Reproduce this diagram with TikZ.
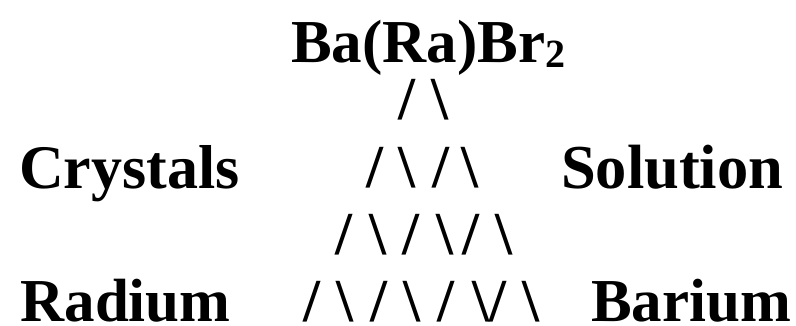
\documentclass[tikz,border=0pt]{standalone}
\usepackage{fontspec}
\setmainfont{Liberation Serif}
\begin{document}
\begin{tikzpicture}[x=1bp,y=-1bp,
  lbl/.style={inner sep=0pt,outer sep=0pt,anchor=base west,text depth=0pt,font=\fontsize{61bp}{70bp}\selectfont\bfseries},
  sl/.style={inner sep=0pt,outer sep=0pt,anchor=base,text depth=0pt,font=\fontsize{61bp}{70bp}\selectfont\bfseries}]
\useasboundingbox[fill=white] (0,0) rectangle (796,325);
% title
\node[lbl] (title) at (291,62) {Ba(Ra)Br{\fontsize{40bp}{40bp}\selectfont\raisebox{-5bp}{2}}};
% labels
\node[lbl,font=\fontsize{62bp}{70bp}\selectfont\bfseries] (crystals) at (19,188) {Crystals};
\node[lbl,font=\fontsize{62.5bp}{70bp}\selectfont\bfseries] (solution) at (561,188) {Solution};
\node[lbl] (radium) at (20.5,321) {Radium};
\node[lbl] (barium) at (591,321) {Barium};
% row 1
\node[sl] (a1) at (406.5,119) {/};
\node[sl] (a2) at (440,119) {\textbackslash};
% row 2
\node[sl] (b1) at (374.5,187) {/};
\node[sl] (b2) at (407,187) {\textbackslash};
\node[sl] (b3) at (441,187) {/};
\node[sl] (b4) at (470,187) {\textbackslash};
% row 3
\node[sl] (c1) at (343.5,254) {/};
\node[sl] (c2) at (378,254) {\textbackslash};
\node[sl] (c3) at (410.5,254) {/};
\node[sl] (c4) at (445,254) {\textbackslash};
\node[sl] (c5) at (470.5,254) {/};
\node[sl] (c6) at (504,254) {\textbackslash};
% row 4
\node[sl] (d1) at (312,321) {/};
\node[sl] (d2) at (345,321) {\textbackslash};
\node[sl] (d3) at (378.5,321) {/};
\node[sl] (d4) at (412,321) {\textbackslash};
\node[sl] (d5) at (446,321) {/};
\node[sl] (d6) at (481,321) {\textbackslash};
\node[sl] (d7) at (497.5,321) {/};
\node[sl] (d8) at (531,321) {\textbackslash};
\end{tikzpicture}
\end{document}
